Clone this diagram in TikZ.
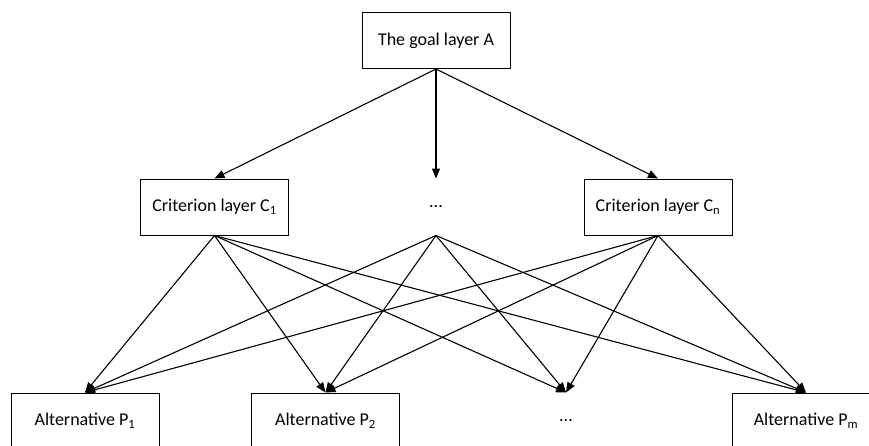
\documentclass[tikz,border=0pt]{standalone}
\usepackage{fontspec}
\setmainfont{Carlito}
\usetikzlibrary{arrows.meta}
\begin{document}
\begin{tikzpicture}[x=1pt,y=-1pt,
  box/.style={draw, line width=1pt, minimum width=148pt, minimum height=56pt, inner sep=0pt, font=\fontsize{18}{21}\selectfont},
  plain/.style={box, draw=none},
  link/.style={line width=1.1pt, -{Triangle[length=10pt,width=8pt]}}]
\useasboundingbox (0,0) rectangle (869,445);
\clip (0,0) rectangle (869,445);
\node[box] (A) at (436,40.5) {The goal layer A};
\node[box] (C1) at (214.5,207) {Criterion layer C\textsubscript{1}};
\node[plain] (Cm) at (436,207) {...};
\node[box] (Cn) at (658,207) {Criterion layer C\textsubscript{n}};
\node[box] (P1) at (85,421) {Alternative P\textsubscript{1}};
\node[box] (P2) at (325.5,421) {Alternative P\textsubscript{2}};
\node[plain] (Pd) at (566,421) {...};
\node[box] (Pm) at (806,421) {Alternative P\textsubscript{m}};
\draw[link] (A.south) -- (C1.north);
\draw[link] (A.south) -- (Cm.north);
\draw[link] (A.south) -- (Cn.north);
\foreach \s in {C1,Cm,Cn}
  \foreach \t in {P1,P2,Pd,Pm}
    \draw[link] (\s.south) -- (\t.north);
\end{tikzpicture}
\end{document}
